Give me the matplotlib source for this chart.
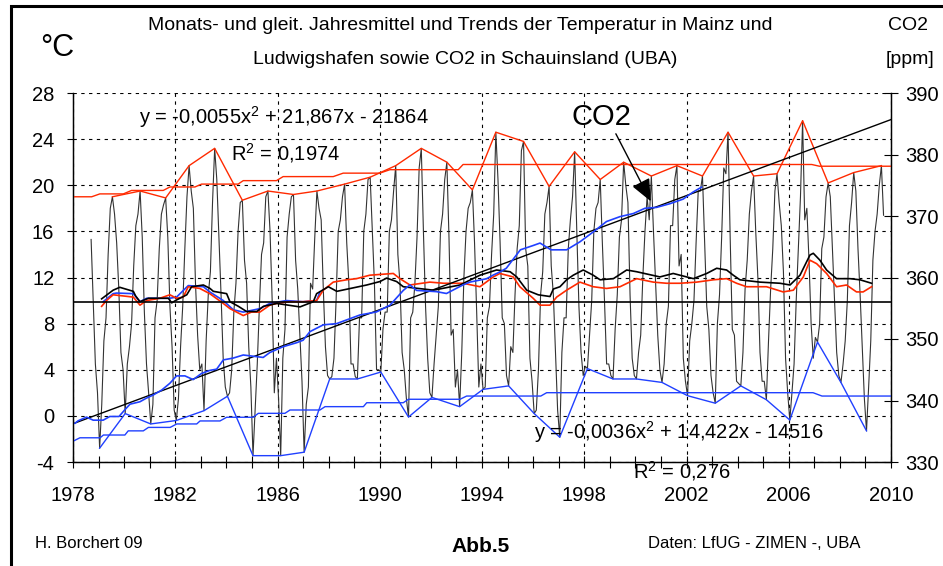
import numpy as np
import matplotlib.pyplot as plt
from matplotlib.patches import Rectangle

plt.rcParams['font.family'] = ['Liberation Sans', 'DejaVu Sans']
plt.rcParams['mathtext.fontset'] = 'custom'
plt.rcParams['mathtext.rm'] = 'Liberation Sans'
plt.rcParams['mathtext.it'] = 'Liberation Sans'
plt.rcParams['axes.unicode_minus'] = False

# monthly means Mainz, Sep 1978 .. Sep 2009 (in degC)
temp_monthly = [
    15.3, 10.0, 4.5, 2.0,                                                  # 1978 Sep-Dec
    -2.8, 1.0, 6.5, 8.5, 14.0, 18.0, 19.0, 17.5, 15.0, 11.0, 5.5, 4.0,     # 1979
    0.2, 4.5, 6.0, 8.0, 13.0, 16.5, 17.5, 19.5, 15.5, 9.0, 4.5, 2.0,       # 1980
    -0.7, 1.0, 8.5, 10.0, 14.5, 17.5, 18.3, 18.9, 15.5, 9.5, 6.0, 0.5,     # 1981
    -0.4, 1.5, 6.0, 9.5, 14.5, 19.0, 21.7, 19.5, 18.0, 11.5, 7.0, 4.0,     # 1982
    4.5, 0.45, 6.5, 10.5, 12.5, 18.5, 23.2, 20.5, 15.5, 10.5, 5.0, 2.5,    # 1983
    1.7, 2.0, 4.0, 9.0, 11.5, 16.0, 18.5, 18.7, 13.5, 11.5, 6.0, 2.5,      # 1984
    -3.45, 0.5, 4.5, 9.5, 14.0, 15.0, 19.0, 19.5, 16.0, 10.0, 2.0, 5.0,    # 1985
    1.5, -3.45, 5.0, 7.5, 15.5, 17.5, 19.0, 19.2, 13.5, 11.0, 7.0, 3.0,    # 1986
    -3.15, 1.0, 2.5, 11.5, 11.0, 15.5, 19.5, 18.0, 17.0, 11.0, 6.0, 3.5,   # 1987
    3.2, 3.4, 5.0, 10.0, 16.0, 17.0, 19.0, 20.1, 15.0, 11.5, 4.5, 4.5,     # 1988
    3.4, 3.2, 8.5, 8.5, 16.0, 17.5, 20.5, 20.7, 16.0, 11.5, 4.0, 4.0,      # 1989
    3.8, 7.5, 9.0, 9.0, 16.0, 17.0, 19.5, 21.7, 14.0, 11.5, 5.5, 4.0,      # 1990
    1.5, -0.1, 8.5, 9.0, 11.5, 15.5, 21.5, 23.2, 16.0, 9.5, 5.0, 2.0,      # 1991
    1.6, 4.5, 7.0, 9.5, 16.0, 17.5, 20.5, 22.0, 15.5, 7.0, 7.5, 2.5,       # 1992
    4.0, 0.8, 5.5, 12.0, 16.0, 18.0, 18.5, 19.6, 15.0, 9.0, 2.5, 4.5,      # 1993
    2.3, 2.5, 8.5, 9.5, 14.0, 17.5, 24.6, 20.5, 15.0, 8.5, 8.0, 3.5,       # 1994
    2.6, 6.0, 5.5, 10.5, 14.5, 16.5, 23.0, 23.8, 14.5, 13.0, 5.0, 3.0,     # 1995
    0.2, 0.5, 4.0, 10.5, 12.5, 17.5, 18.5, 19.9, 13.0, 10.5, 5.5, 0.5,     # 1996
    -1.85, 5.5, 8.5, 8.5, 14.5, 17.0, 19.0, 22.9, 16.0, 9.5, 5.5, 3.5,     # 1997
    4.3, 4.1, 7.0, 10.0, 16.0, 18.0, 18.5, 20.5, 15.0, 10.0, 4.5, 4.5,     # 1998
    3.5, 3.2, 7.5, 10.5, 15.5, 17.0, 22.0, 20.0, 18.5, 10.5, 5.0, 3.5,     # 1999
    3.2, 5.5, 7.0, 12.0, 16.0, 19.0, 17.0, 20.8, 16.0, 11.5, 7.0, 4.0,     # 2000
    2.9, 4.5, 8.0, 9.5, 16.5, 16.5, 20.5, 21.7, 13.0, 14.0, 5.0, 3.0,      # 2001
    1.75, 6.5, 8.0, 10.0, 15.0, 19.5, 19.5, 20.8, 15.0, 9.5, 7.5, 3.5,     # 2002
    2.0, 1.1, 8.0, 10.5, 15.5, 21.5, 21.0, 24.6, 15.5, 7.5, 7.0, 3.0,      # 2003
    2.8, 2.6, 5.5, 11.0, 13.5, 17.5, 19.5, 20.8, 16.0, 12.0, 5.5, 3.0,     # 2004
    3.0, 1.4, 6.5, 11.0, 14.5, 19.5, 21.0, 18.5, 16.5, 12.5, 5.0, 2.0,     # 2005
    -0.36, 2.0, 4.5, 10.0, 14.5, 19.0, 25.6, 17.0, 18.0, 13.5, 8.0, 5.0,   # 2006
    6.8, 6.4, 8.0, 14.5, 15.5, 19.0, 20.2, 19.0, 14.5, 10.0, 5.5, 3.5,     # 2007
    2.9, 4.5, 6.5, 10.0, 16.5, 18.5, 21.1, 19.5, 14.5, 10.5, 6.0, 1.5,     # 2008
    -1.3, 2.5, 6.5, 13.5, 16.0, 17.5, 20.0, 21.7, 17.4,                    # 2009 Jan-Sep
]
first_month = 9  # Sep 1978

# month of the yearly maximum / minimum, 1979..2009
years = list(range(1979, 2010))
tmax_month = [7, 8, 8, 7, 7, 8, 8, 8, 7, 8, 8, 8, 8, 8, 8, 7, 8, 8, 8, 8, 7, 8, 8, 8, 8, 8, 7, 7, 7, 7, 8]
tmin_month = [1, 1, 1, 1, 2, 1, 1, 2, 1, 1, 2, 1, 2, 1, 2, 1, 1, 1, 1, 2, 2, 1, 1, 1, 2, 2, 2, 1, 2, 1, 1]

# trend steps of the yearly maxima / minima
red_trend_x = [1978.0, 1978.73, 1979.05, 1979.97, 1980.29, 1981.53, 1981.79, 1982.77, 1983.03, 1984.46,
               1984.66, 1985.96, 1986.22, 1988.18, 1988.57, 1990.0, 1990.4, 1993.07, 1993.26, 2006.9,
               2007.2, 2010.0]
red_trend_y = [19.0, 19.0, 19.25, 19.25, 19.55, 19.55, 19.85, 19.85, 20.1, 20.1,
               20.4, 20.4, 20.75, 20.75, 21.05, 21.05, 21.35, 21.35, 21.8, 21.8,
               21.65, 21.65]
blue_trend_x = [1978.0, 1978.27, 1979.06, 1979.19, 1980.03, 1980.16, 1980.75, 1980.95, 1981.8, 1982.06,
                1982.84, 1982.97, 1983.75, 1984.01, 1985.05, 1985.25, 1986.29, 1986.49, 1987.66, 1987.86,
                1989.36, 1989.49, 1990.92, 1991.12, 1993.14, 1993.4, 1996.3, 1996.53, 2006.95, 2007.3,
                2010.0]
blue_trend_y = [-2.2, -1.9, -1.9, -1.66, -1.66, -1.3, -1.3, -1.0, -1.0, -0.7,
                -0.7, -0.44, -0.44, -0.12, -0.12, 0.22, 0.22, 0.51, 0.51, 0.8,
                0.8, 1.14, 1.14, 1.44, 1.44, 1.72, 1.72, 2.01, 2.01, 1.72,
                1.72]

# 12-month moving means
ma_black_x = [1979.12, 1979.57, 1979.83, 1980.36, 1980.45, 1980.62, 1980.95, 1981.73, 1981.86, 1982.05,
              1982.45, 1982.64, 1983.1, 1983.36, 1983.49, 1984.01, 1984.14, 1984.47, 1984.79, 1985.19,
              1985.45, 1985.97, 1986.88, 1987.4, 1987.53, 1987.99, 1988.32, 1989.49, 1990.01, 1990.27,
              1990.66, 1990.92, 1992.1, 1993.14, 1993.92, 1994.57, 1995.1, 1995.36, 1995.75, 1996.2,
              1996.66, 1996.79, 1997.05, 1997.31, 1997.57, 1997.96, 1998.35, 1998.62, 1999.14, 1999.66,
              2000.05, 2000.96, 2001.48, 2002.27, 2002.79, 2003.18, 2003.57, 2003.83, 2004.09, 2004.87,
              2005.66, 2006.05, 2006.44, 2006.83, 2006.96, 2007.22, 2007.48, 2007.87, 2008.39, 2008.79,
              2009.24]
ma_black_y = [10.15, 10.9, 11.15, 10.8, 10.4, 9.9, 10.2, 10.2, 9.8, 10.05,
              10.5, 11.2, 11.35, 11.05, 10.8, 10.6, 9.9, 9.5, 9.05, 9.05,
              9.5, 9.75, 9.45, 9.9, 10.6, 11.2, 10.8, 11.35, 11.65, 11.95,
              11.65, 11.2, 10.9, 11.35, 12.2, 12.65, 12.5, 12.05, 10.9, 10.5,
              10.35, 11.0, 11.2, 11.8, 12.2, 12.65, 12.2, 11.8, 11.9, 12.65,
              12.5, 12.05, 12.35, 11.9, 12.35, 12.8, 12.65, 12.2, 11.8, 11.6,
              11.5, 11.35, 12.2, 13.95, 14.1, 13.5, 12.65, 11.9, 11.9, 11.8,
              11.5]
ma_red_x = [1979.12, 1979.31, 1979.57, 1980.36, 1980.62, 1980.88, 1981.4, 1981.79, 1982.05, 1982.31,
            1982.51, 1982.96, 1983.35, 1983.88, 1984.14, 1984.66, 1984.98, 1985.31, 1985.7, 1985.96,
            1986.48, 1987.0, 1987.53, 1987.79, 1988.18, 1988.7, 1989.09, 1989.61, 1990.53, 1990.79,
            1991.18, 1991.96, 1992.5, 1993.26, 1993.92, 1994.44, 1994.7, 1995.22, 1995.48, 1996.0,
            1996.27, 1996.66, 1996.92, 1997.31, 1997.83, 1998.35, 1998.87, 1999.4, 2000.05, 2000.7,
            2001.22, 2001.74, 2002.4, 2003.05, 2003.57, 2003.96, 2004.35, 2005.13, 2005.78, 2006.18,
            2006.57, 2006.83, 2007.09, 2007.48, 2007.87, 2008.26, 2008.65, 2008.91, 2009.24]
ma_red_y = [9.5, 10.0, 10.5, 10.3, 9.6, 10.0, 10.2, 10.5, 10.2, 10.3,
            11.2, 11.05, 10.6, 9.75, 9.3, 8.7, 9.0, 9.0, 9.6, 9.75,
            9.9, 9.9, 10.0, 10.9, 11.6, 11.8, 11.9, 12.2, 12.35, 11.9,
            11.35, 11.6, 11.5, 11.5, 11.2, 12.05, 12.35, 12.05, 11.2, 10.2,
            9.6, 9.6, 10.3, 10.9, 11.6, 11.2, 11.05, 11.2, 11.9, 11.6,
            11.5, 11.5, 11.6, 11.8, 11.9, 11.5, 11.2, 11.2, 10.75, 10.9,
            12.05, 13.5, 13.2, 12.35, 11.2, 11.35, 10.75, 10.75, 11.2]
ma_blue_x = [1979.18, 1979.57, 1979.7, 1980.36, 1980.62, 1980.88, 1981.79, 1982.05, 1982.51, 1983.1,
             1983.35, 1983.88, 1984.27, 1984.66, 1985.31, 1985.7, 1986.35, 1987.0, 1987.53, 1987.66]
ma_blue_y = [9.9, 10.6, 10.65, 10.6, 9.9, 10.2, 10.2, 10.3, 11.3, 11.2,
             10.75, 10.0, 9.2, 9.0, 9.3, 9.75, 10.0, 9.9, 10.0, 10.75]
mean_line = 9.85

# CO2 Schauinsland (ppm)
co2_x = [1978.08, 1978.2, 1978.53, 1978.79, 1979.18, 1979.44, 1979.8, 1980.03, 1980.23, 1980.62,
         1980.88, 1981.14, 1981.47, 1981.79, 1982.05, 1982.38, 1982.7, 1983.03, 1983.36, 1983.62,
         1983.88, 1984.27, 1984.66, 1985.44, 1985.7, 1986.22, 1986.75, 1987.0, 1987.27, 1987.79,
         1988.31, 1988.7, 1989.22, 1989.87, 1990.4, 1990.92, 1991.18, 1991.44, 1992.22, 1992.61,
         1993.26, 1993.52, 1994.18, 1994.44, 1994.7, 1994.95, 1995.5, 1996.0, 1996.27, 1996.7,
         1997.31, 1997.83, 1998.35, 1998.87, 1999.4, 1999.92, 2000.37, 2000.83, 2001.35, 2001.87,
         2002.26, 2002.59]
co2_ppm = [336.3, 336.7, 337.3, 336.8, 336.8, 337.4, 337.4, 338.5, 339.4, 339.8,
           340.4, 340.9, 341.7, 342.8, 344.0, 344.0, 343.4, 344.4, 344.9, 345.1,
           346.6, 346.9, 347.4, 347.0, 347.8, 348.75, 349.4, 349.8, 351.2, 352.3,
           352.5, 353.1, 353.9, 354.4, 355.5, 357.9, 358.8, 357.9, 357.7, 357.4,
           358.8, 359.25, 359.8, 360.4, 360.9, 361.5, 364.5, 365.2, 365.6, 364.5,
           364.5, 365.8, 367.4, 369.1, 369.9, 370.4, 371.25, 371.4, 372.0, 372.75,
           373.9, 374.7]

red = '#ff2a00'
blue = '#2040ff'

# dates of the monthly values
month_dates = 1978 + (first_month - 1 + np.arange(len(temp_monthly)) + 0.5) / 12
temp_monthly = np.array(temp_monthly)
max_idx = [(y - 1978) * 12 + m - first_month for y, m in zip(years, tmax_month)]
min_idx = [(y - 1978) * 12 + m - first_month for y, m in zip(years, tmin_month)]

W, H = 943, 566
fig = plt.figure(figsize=(W / 100, H / 100), dpi=100)
ax = fig.add_axes([73 / W, 1 - 462 / H, (891 - 73) / W, (462 - 93) / H])

ax.plot(month_dates, temp_monthly, color='#333333', lw=0.8, zorder=2)
ax.plot(month_dates[max_idx], temp_monthly[max_idx], color=red, lw=1.0, zorder=3)
ax.plot(month_dates[min_idx], temp_monthly[min_idx], color=blue, lw=1.0, zorder=3)
ax.plot(red_trend_x, red_trend_y, color=red, lw=1.0, zorder=3)
ax.plot(blue_trend_x, blue_trend_y, color=blue, lw=1.0, zorder=3)
ax.plot(ma_blue_x, ma_blue_y, color=blue, lw=1.2, zorder=4)
ax.plot(ma_red_x, ma_red_y, color=red, lw=1.2, zorder=4)
ax.plot(ma_black_x, ma_black_y, color='black', lw=1.2, zorder=4)
ax.axhline(mean_line, color='black', lw=1.2, zorder=4)

ax.set_xlim(1978, 2010)
ax.set_ylim(-4, 28)
ax.set_xticks(range(1978, 2011, 4))
ax.set_xticks(range(1978, 2011), minor=True)
ax.set_yticks(range(-4, 29, 4))
ax.grid(True, which='major', color='black', lw=0.8, linestyle=(0, (3, 4)))
ax.spines['top'].set_visible(False)
ax.tick_params(axis='x', which='both', direction='inout', length=8, width=0.8, labelsize=14.5, pad=13)
ax.tick_params(axis='y', direction='out', length=4.5, width=0.8, labelsize=14.5, pad=9)
for s in ax.spines.values():
    s.set_linewidth(1.0)

ax2 = ax.twinx()
ax2.set_ylim(330, 390)
ax2.set_yticks(range(330, 391, 10))
ax2.plot(co2_x, co2_ppm, color=blue, lw=1.2, zorder=4)
coef = np.polyfit(co2_x, co2_ppm, 1)
tx = np.array([1978, 2010])
ax2.plot(tx, np.polyval(coef, tx), color='black', lw=1.0)
ax2.spines['top'].set_visible(False)
ax2.tick_params(axis='y', direction='inout', length=10, width=0.8, labelsize=14.5, pad=5)

ax2.annotate('CO2', xy=(2000.6, 372.4), xytext=(601, H - 117), textcoords='figure pixels',
             fontsize=21, ha='center', va='center',
             arrowprops=dict(arrowstyle='-|>,head_length=0.8,head_width=0.35', color='black', lw=1,
                             mutation_scale=17, shrinkA=0, shrinkB=0, relpos=(0.7, 0.1)))


def ftext(x, y, s, **kw):
    fig.text(x / W, 1 - y / H, s, ha=kw.pop('ha', 'center'), va=kw.pop('va', 'center'), **kw)


ftext(460, 25, 'Monats- und gleit. Jahresmittel und Trends der Temperatur in Mainz und', fontsize=14)
ftext(465, 60, 'Ludwigshafen sowie CO2 in Schauinsland (UBA)', fontsize=14)
ftext(57, 48, '°C', fontsize=22)
ftext(908, 25, 'CO2', fontsize=14)
ftext(910, 60, '[ppm]', fontsize=14)
ftext(284, 117, 'y = -0,0055x$^2$ + 21,867x - 21864', fontsize=14.5)
ftext(286, 153, 'R$^2$ = 0,1974', fontsize=14.5)
ftext(679, 432, 'y = -0,0036x$^2$ + 14,422x - 14516', fontsize=14.5)
ftext(682, 471, 'R$^2$ = 0,276', fontsize=14.5)
ftext(35, 543, 'H. Borchert 09', fontsize=12, ha='left')
ftext(481, 547, 'Abb.5', fontsize=15, fontweight='bold')
ftext(648, 543, 'Daten: LfUG - ZIMEN -, UBA', fontsize=12, ha='left')

# outer frame, cut off at right and bottom
fig.patches.append(Rectangle((11 / W, -0.1), 1.2, 1 - 6 / H + 0.1, transform=fig.transFigure,
                             fill=False, ec='black', lw=2.2, clip_on=False))

fig.savefig('out.png', dpi=100)
